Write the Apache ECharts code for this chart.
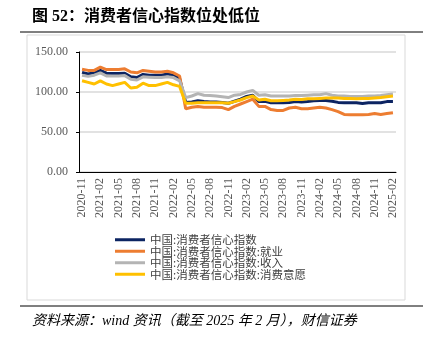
<!DOCTYPE html>
<html><head><meta charset="utf-8">
<script src="https://cdn.jsdelivr.net/npm/echarts@6/dist/echarts.min.js"></script>
<style>html,body{margin:0;padding:0;background:#fff}#c{width:430px;height:339px}</style>
</head><body><div id="c"></div>
<script>
var categories = [
 '2020-11','2020-12','2021-01','2021-02','2021-03','2021-04','2021-05','2021-06','2021-07','2021-08','2021-09','2021-10',
 '2021-11','2021-12','2022-01','2022-02','2022-03','2022-04','2022-05','2022-06','2022-07','2022-08','2022-09','2022-10',
 '2022-11','2022-12','2023-01','2023-02','2023-03','2023-04','2023-05','2023-06','2023-07','2023-08','2023-09','2023-10',
 '2023-11','2023-12','2024-01','2024-02','2024-03','2024-04','2024-05','2024-06','2024-07','2024-08','2024-09','2024-10',
 '2024-11','2024-12','2025-01','2025-02'];
var seriesNames = ['中国:消费者信心指数','中国:消费者信心指数:就业','中国:消费者信心指数:收入','中国:消费者信心指数:消费意愿'];
var confidence = [124.5,122.5,124,127,123.5,123,123,123.5,119,118,122,121,121,121,122.5,121,117,
 87,87.5,89,88,87.5,87.5,87,86,88.5,91,94.5,96,88,88.5,86.5,86.5,86.5,87,88,87.5,88,89,89.5,89.5,88.5,87,86.5,86.5,86.5,85.5,86.5,86.5,86.5,88,88];
var employment = [128.5,127,127,131,128,128,128,129,125,124,127,126,125,125,126,124,120,
 79,81,82,81,81,81,80.5,78,82,85,88,91,82,82,78,77,77,80,81,79,79,80,81,80,78,75.5,72,71.5,71.5,71.5,72,73,72,73,74];
var income = [121,119.5,121,124,120,120,120,120.5,116,115,119,118.5,118,118,119,118,114,
 93,95,98,96,95.5,95,94,93,96,97,100,102,96,96.5,95,95,95,95,95.5,95.5,96,96.5,96.5,98,96,95,95,94.5,94.5,94.5,95,95,95.5,96.5,97.5];
var willingness = [114,112,110,114,110,108,110,112,105,106,111,108,108,110,112,109,107,
 86,86,86.5,86.5,86.5,86.5,86.5,86,88,90,93,95,90,91,89,89,89.5,90,91,90.5,91.5,91.5,92,92.5,92.5,92.5,92,92,91.5,92,92,92.5,93,94,95];
var yTicks = [0,50,100,150];
var colors = ['#0c2462','#ED7D31','#B4B4B4','#FFC000'];

var chart = echarts.init(document.getElementById('c'), null, {renderer:'canvas'});
var serif = "'Liberation Serif','Times New Roman','Noto Sans CJK SC',serif";
var dataList = [confidence, employment, income, willingness];
chart.setOption({
  animation:false,
  title:{text:'图 52：消费者信心指数位处低位',left:32,top:9,padding:0,
    textStyle:{fontFamily:serif,fontWeight:'bold',fontSize:16,color:'#000'}},
  graphic:[
    {type:'line',shape:{x1:20,y1:32,x2:423,y2:32},style:{stroke:'#000',lineWidth:1}},
    {type:'rect',shape:{x:27,y:35,width:378,height:265},style:{fill:'none',stroke:'#d9d9d9',lineWidth:1}},
    {type:'line',shape:{x1:20,y1:306,x2:423,y2:306},style:{stroke:'#000',lineWidth:1}},
    {type:'text',left:32,top:314,style:{text:'资料来源：wind 资讯（截至 2025 年 2 月），财信证券',
      font:'italic 14px '+serif,fill:'#000'}}
  ],
  legend:{orient:'vertical',left:115,top:234,itemWidth:30,itemHeight:3,itemGap:0,padding:0,
    icon:'rect',data:seriesNames,
    textStyle:{fontFamily:"'Noto Sans CJK SC',sans-serif",fontSize:11.5,lineHeight:11,color:'#404040'}},
  grid:{left:79,right:34,top:52,bottom:167,containLabel:false},
  xAxis:{type:'category',data:categories,boundaryGap:true,
    axisLine:{lineStyle:{color:'#000',width:1}},
    axisTick:{interval:2,length:4,lineStyle:{color:'#000'}},
    axisLabel:{interval:2,rotate:90,margin:6,fontFamily:serif,fontSize:12,color:'#595959'}},
  yAxis:{type:'value',min:yTicks[0],max:yTicks[yTicks.length-1],interval:50,
    axisLine:{show:true,lineStyle:{color:'#000',width:1}},
    axisTick:{show:true,length:3,lineStyle:{color:'#000'}},
    axisLabel:{margin:11,fontFamily:serif,fontSize:12,color:'#595959',formatter:function(v){return v.toFixed(2);}},
    splitLine:{lineStyle:{color:'#d9d9d9',width:1.5}}},
  series:seriesNames.map(function(n,i){return {name:n,type:'line',data:dataList[i],symbol:'none',
    lineStyle:{width:3,color:colors[i]},itemStyle:{color:colors[i]}};})
});
</script></body></html>
